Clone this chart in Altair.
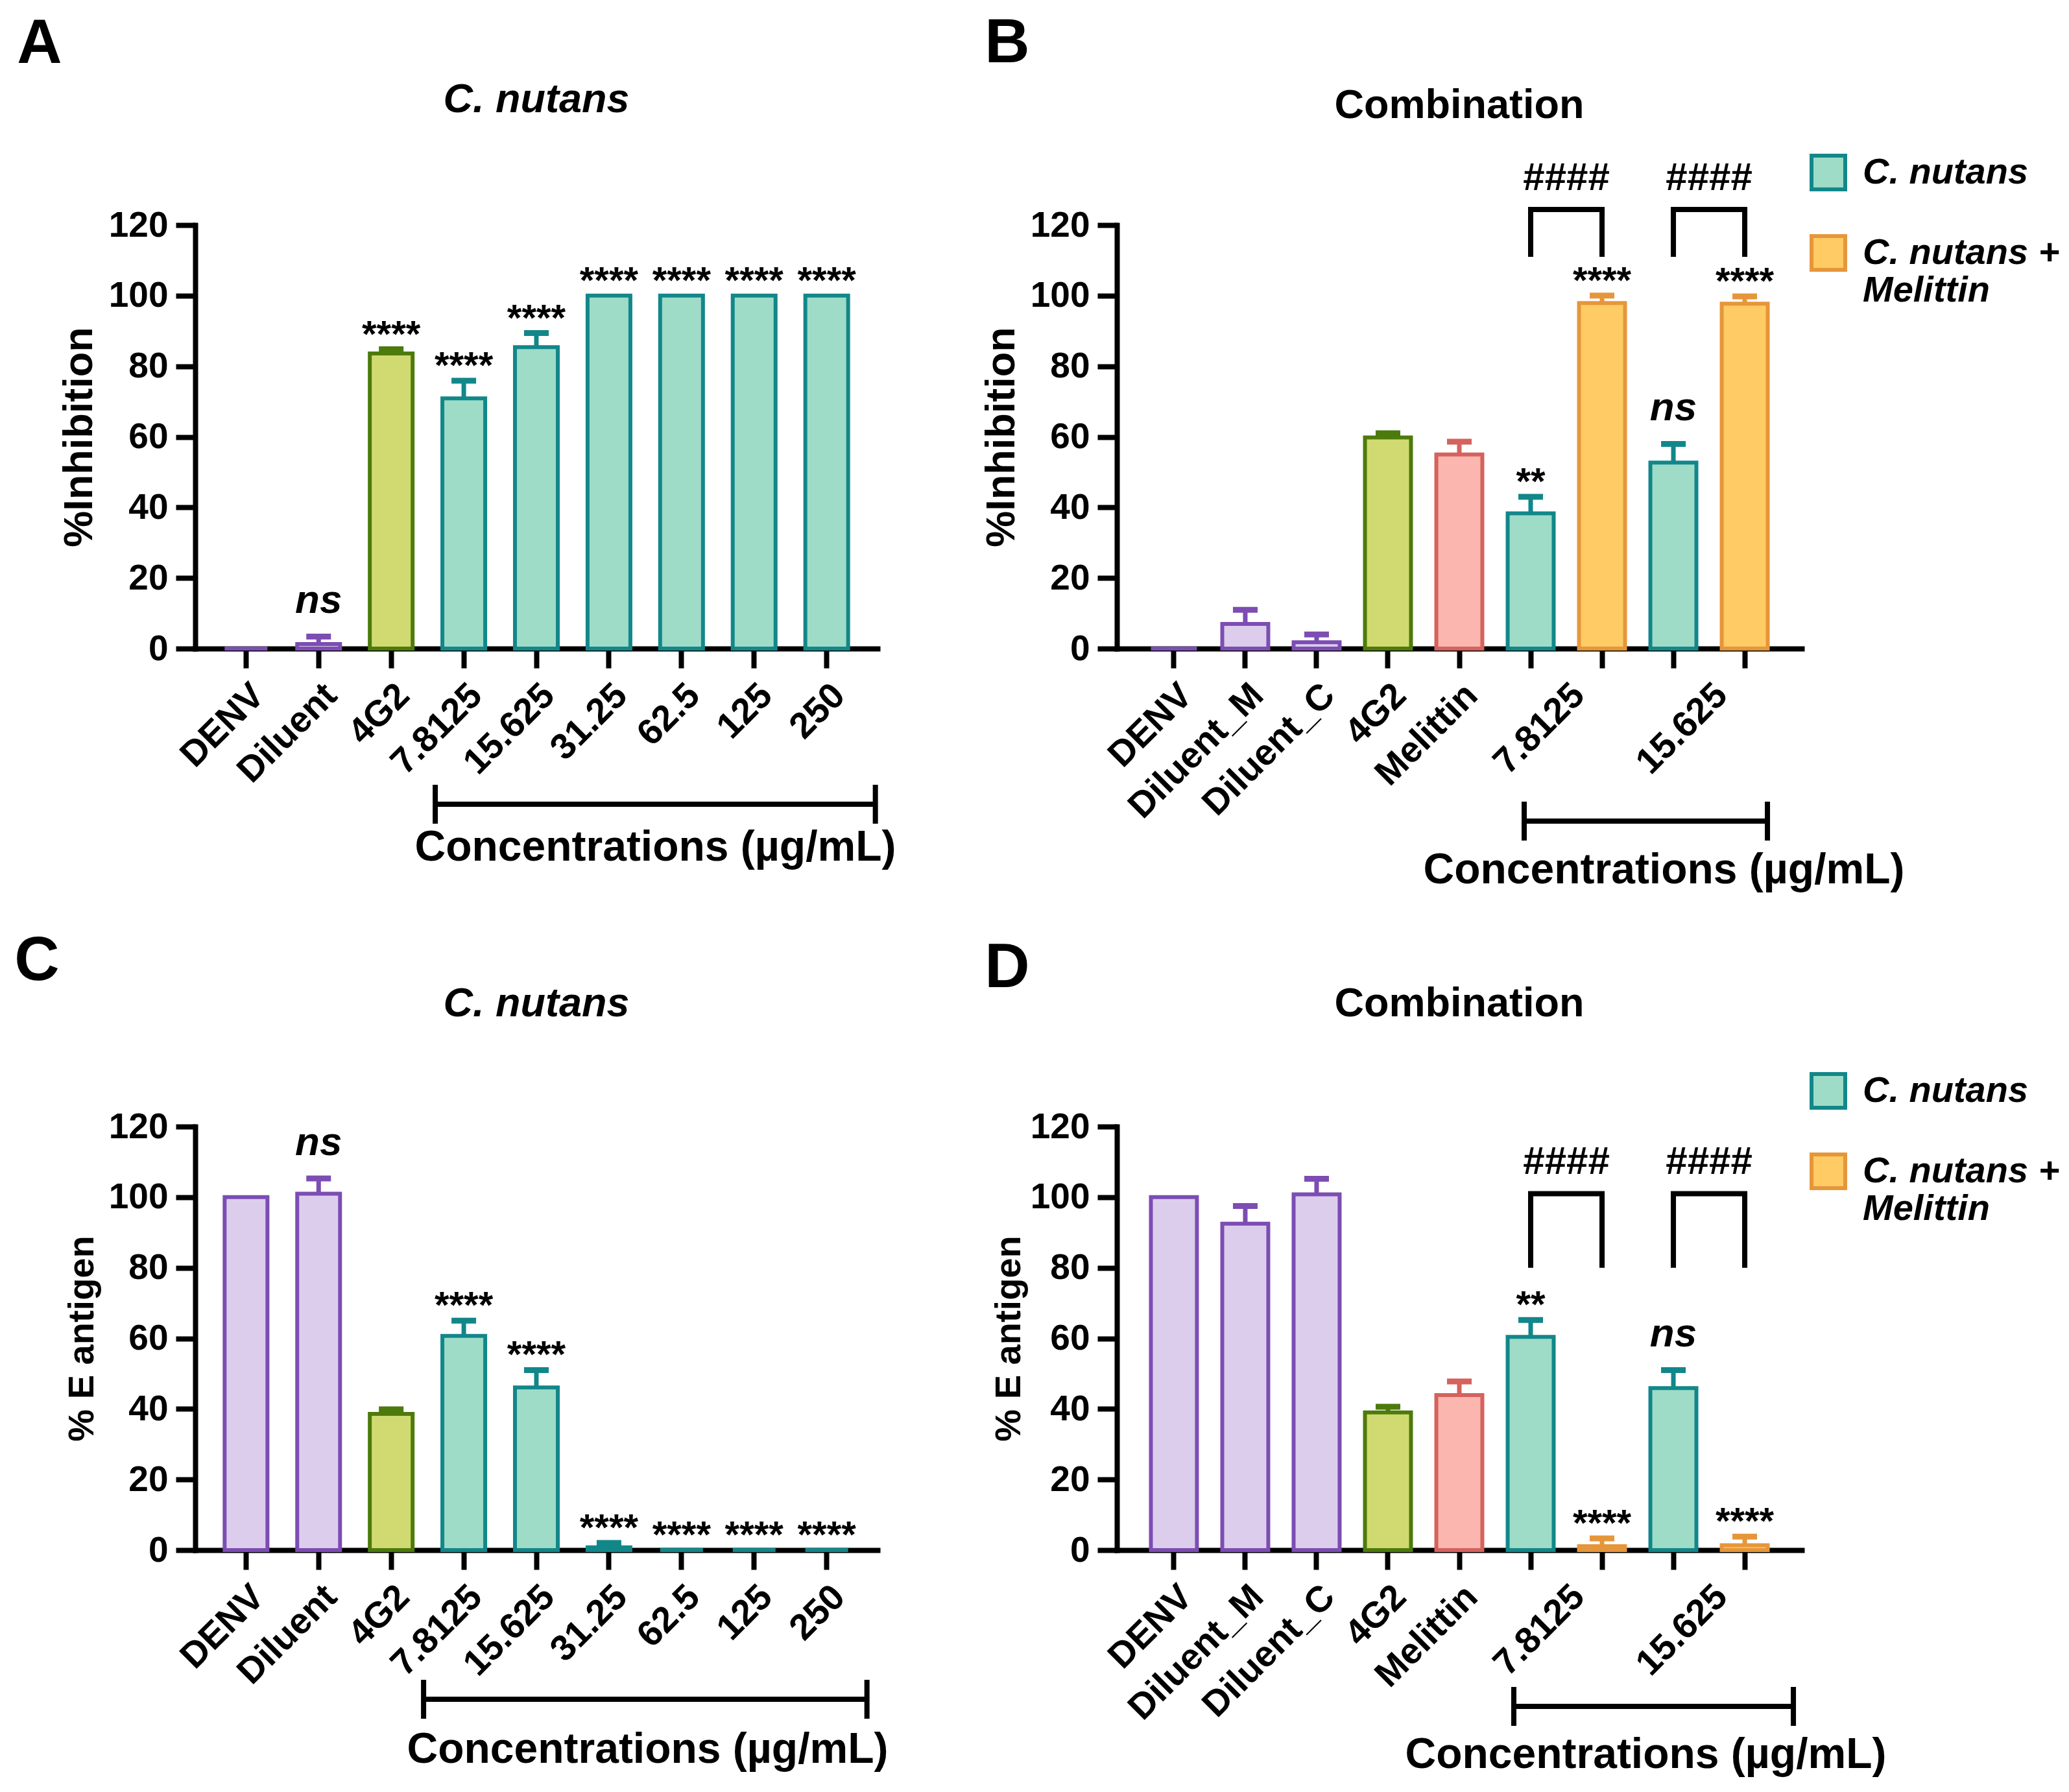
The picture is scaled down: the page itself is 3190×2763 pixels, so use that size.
import altair as alt
import pandas as pd

FONT = "Liberation Sans"

# bar groups and their colours
group_names = ["Control", "4G2", "Melittin", "C. nutans", "C. nutans + Melittin"]
fill_colors = ["#DCCDEC", "#D0DA70", "#FBB6B0", "#9EDCC8", "#FECB65"]
edge_colors = ["#7C4DB3", "#4D7A0C", "#D5625C", "#12878A", "#E6963A"]
legend_groups = ["C. nutans", "C. nutans + Melittin"]

# panels A and C: C. nutans alone
cats_single = ["DENV", "Diluent", "4G2", "7.8125", "15.625", "31.25", "62.5", "125", "250"]
groups_single = ["Control", "Control", "4G2", "C. nutans", "C. nutans", "C. nutans",
                 "C. nutans", "C. nutans", "C. nutans"]
conc_single = ["7.8125", "250"]

inhibition_single = [0, 1.3, 83.6, 70.9, 85.4, 100, 100, 100, 100]
inhibition_single_sem = [0, 2.1, 1.2, 5.0, 4.0, 0, 0, 0, 0]
inhibition_single_sig = ["", "ns", "****", "****", "****", "****", "****", "****", "****"]

eantigen_single = [100, 101.0, 38.6, 60.7, 46.1, 0.8, 0, 0, 0]
eantigen_single_sem = [0, 4.3, 1.3, 4.3, 4.9, 1.2, 0, 0, 0]
eantigen_single_sig = ["", "ns", "", "****", "****", "****", "****", "****", "****"]

# panels B and D: combination with melittin
cats_combo = ["DENV", "Diluent_M", "Diluent_C", "4G2", "Melittin",
              "7.8125", "7.8125", "15.625", "15.625"]
groups_combo = ["Control", "Control", "Control", "4G2", "Melittin",
                "C. nutans", "C. nutans + Melittin", "C. nutans", "C. nutans + Melittin"]
conc_combo = ["7.8125", "15.625"]

inhibition_combo = [0, 7.0, 1.8, 59.8, 55.0, 38.3, 97.9, 52.7, 97.7]
inhibition_combo_sem = [0, 4.0, 2.2, 1.2, 3.6, 4.7, 2.1, 5.3, 2.1]
inhibition_combo_sig = ["", "", "", "", "", "**", "****", "ns", "****"]
inhibition_bracket = [111, 124.4]

eantigen_combo = [100, 92.5, 100.8, 39.0, 43.9, 60.4, 1.1, 45.9, 1.4]
eantigen_combo_sem = [0, 5.0, 4.4, 1.6, 3.9, 4.8, 2.2, 5.1, 2.4]
eantigen_combo_sig = ["", "", "", "", "", "**", "****", "ns", "****"]
eantigen_bracket = [80, 101]

H = 653
TICK = 30
LABEL_PAD = 14
LINE = 8


def slot_keys(cats, groups):
    return [c if cats.count(c) == 1 else c + "|" + g for c, g in zip(cats, groups)]


def panel(cats, groups, values, sems, sigs, conc, letter, heading, italic, ytitle, lay,
          bracket=None):
    keys = slot_keys(cats, groups)
    df = pd.DataFrame({"slot": keys, "cat": cats, "group": groups,
                       "value": values, "sem": sems, "sig": sigs})
    df["top"] = df["value"] + df["sem"]
    w = lay["width"]
    step = w / (len(keys) - lay["pi"] + 2 * lay["po"])

    xscale = alt.Scale(domain=keys, paddingInner=lay["pi"], paddingOuter=lay["po"])
    yscale = alt.Scale(domain=[0, 120], nice=False)
    xaxis = alt.Axis(title="Concentrations (µg/mL)", titleX=lay["tx"], titleY=lay["ty"],
                     titleAlign="center", titleBaseline="middle", titleFontSize=66,
                     labelAngle=315, labelAlign="right", labelBaseline="top",
                     labelPadding=LABEL_PAD, labelFontSize=56, labelLimit=600,
                     labelOverlap=False,
                     labelExpr="indexof(datum.value, '|') >= 0 ? '' : datum.value")
    yaxis = alt.Axis(values=[0, 20, 40, 60, 80, 100, 120], title=ytitle,
                     titleX=lay["yx"], titleY=H / 2, titleAlign="center",
                     titleBaseline="middle", titleFontSize=lay["yfs"],
                     labelFontSize=55, labelPadding=12)
    if lay.get("legend_y") is not None:
        legend = alt.Legend(values=legend_groups, title=None, orient="none",
                            legendX=lay["legend_x"], legendY=lay["legend_y"],
                            symbolType="square", symbolSize=2700, symbolStrokeWidth=6,
                            labelFont=FONT, labelFontSize=56, labelFontWeight="bold",
                            labelFontStyle="italic", labelColor="black", labelLimit=800,
                            labelOffset=24, rowPadding=48, padding=0,
                            labelExpr="datum.label == 'C. nutans + Melittin' ? "
                                      "['C. nutans +', 'Melittin'] : datum.label")
    else:
        legend = None

    x = alt.X("slot:N", scale=xscale, axis=xaxis)
    fill = alt.Fill("group:N", scale=alt.Scale(domain=group_names, range=fill_colors),
                    legend=legend)
    stroke = alt.Stroke("group:N", scale=alt.Scale(domain=group_names, range=edge_colors),
                        legend=legend)

    base = alt.Chart(df)
    bars = base.mark_bar(strokeWidth=6).encode(
        x=x, y=alt.Y("value:Q", scale=yscale, axis=yaxis), fill=fill, stroke=stroke)
    err = base.transform_filter("datum.sem > 0")
    stems = err.mark_rule(strokeWidth=7).encode(
        x=x, y=alt.Y("value:Q", scale=yscale, axis=yaxis), y2="top:Q", stroke=stroke)
    caps = err.mark_rule(strokeWidth=9, xOffset=-19, x2Offset=19).encode(
        x=x, x2="slot:N", y=alt.Y("top:Q", scale=yscale, axis=yaxis), stroke=stroke)
    stars = base.transform_filter("indexof(datum.sig, '*') >= 0").mark_text(
        font=FONT, fontSize=58, fontWeight="bold", baseline="alphabetic", dy=-4,
        color="black").encode(x=x, y=alt.Y("top:Q", scale=yscale, axis=yaxis), text="sig:N")
    ns = base.transform_filter("datum.sig == 'ns'").mark_text(
        font=FONT, fontSize=62, fontWeight="bold", fontStyle="italic",
        baseline="alphabetic", dy=-36, color="black").encode(
        x=x, y=alt.Y("top:Q", scale=yscale, axis=yaxis), text="sig:N")

    # bracket spanning the concentrations, below the tick labels
    cdf = pd.DataFrame({"start": [keys[cats.index(conc[0])]],
                        "end": [keys[len(cats) - 1 - cats[::-1].index(conc[-1])]]})
    cb = alt.Chart(cdf)
    by = H + lay["by"]
    conc_line = cb.mark_rule(strokeWidth=LINE, color="black", xOffset=lay["blo"],
                             x2Offset=lay["bhi"]).encode(
        x=alt.X("start:N", scale=xscale, axis=xaxis), x2="end:N", y=alt.value(by))
    conc_left = cb.mark_rule(strokeWidth=LINE, color="black", xOffset=lay["blo"]).encode(
        x=alt.X("start:N", scale=xscale, axis=xaxis), y=alt.value(by - 30),
        y2=alt.value(by + 30))
    conc_right = cb.mark_rule(strokeWidth=LINE, color="black", xOffset=lay["bhi"]).encode(
        x=alt.X("end:N", scale=xscale, axis=xaxis), y=alt.value(by - 30),
        y2=alt.value(by + 30))

    tdf = pd.DataFrame({"letter": [letter], "heading": [heading]})
    tb = alt.Chart(tdf)
    letter_txt = tb.mark_text(font=FONT, fontSize=96, fontWeight="bold", align="center",
                              baseline="middle", color="black").encode(
        x=alt.value(lay["lx"]), y=alt.value(lay["ly"]), text="letter:N")
    head_txt = tb.mark_text(font=FONT, fontSize=63, fontWeight="bold",
                            fontStyle="italic" if italic else "normal", align="center",
                            baseline="middle", color="black").encode(
        x=alt.value(w / 2), y=alt.value(lay["hy"]), text="heading:N")

    layers = [bars, stems, caps, stars, ns, conc_line, conc_left, conc_right,
              letter_txt, head_txt]

    if bracket is not None:
        left = [k for k, g in zip(keys, groups) if g == "C. nutans"]
        right = [k for k, g in zip(keys, groups) if g == "C. nutans + Melittin"]
        bdf = pd.DataFrame({"left": left, "right": right,
                            "cat": [k.split("|")[0] for k in left],
                            "low": bracket[0], "high": bracket[1], "mark": "####"})
        bb = alt.Chart(bdf)
        bx = alt.X("left:N", scale=xscale, axis=xaxis)
        byy = alt.Y("high:Q", scale=yscale, axis=yaxis)
        top_line = bb.mark_rule(strokeWidth=LINE, color="black", strokeCap="square").encode(
            x=bx, x2="right:N", y=byy)
        leg_l = bb.mark_rule(strokeWidth=LINE, color="black").encode(
            x=bx, y=alt.Y("low:Q", scale=yscale, axis=yaxis), y2="high:Q")
        leg_r = bb.mark_rule(strokeWidth=LINE, color="black").encode(
            x=alt.X("right:N", scale=xscale, axis=xaxis),
            y=alt.Y("low:Q", scale=yscale, axis=yaxis), y2="high:Q")
        hashes = bb.mark_text(font=FONT, fontSize=60, fontWeight="bold", color="black",
                              xOffset=step / 2, baseline="alphabetic", dy=-30).encode(
            x=bx, y=byy, text="mark:N")
        group_lbl = bb.mark_text(font=FONT, fontSize=56, fontWeight="bold", color="black",
                                 angle=315, align="right", baseline="top",
                                 xOffset=step / 2).encode(
            x=bx, y=alt.value(H + TICK + LABEL_PAD), text="cat:N")
        layers += [top_line, leg_l, leg_r, hashes, group_lbl]

    return alt.layer(*layers).properties(width=w, height=H)


lay_a = dict(width=1052, pi=0.41, po=0.405, tx=709, ty=306, yx=-179, yfs=63,
             by=240, blo=-44, bhi=75, lx=-240, ly=-279, hy=-193)
lay_b = dict(width=1056, pi=0.355, po=0.477, tx=843, ty=341, yx=-178, yfs=63,
             by=266, blo=-10, bhi=35, lx=-169, ly=-280, hy=-184,
             legend_x=1068, legend_y=-110)
lay_c = dict(width=1052, pi=0.41, po=0.405, tx=697, ty=307, yx=-175, yfs=56,
             by=230, blo=-62, bhi=62, lx=-244, ly=-255, hy=-189)
lay_d = dict(width=1056, pi=0.355, po=0.477, tx=815, ty=315, yx=-167, yfs=56,
             by=241, blo=-26, bhi=75, lx=-169, ly=-244, hy=-189,
             legend_x=1068, legend_y=-84)

panel_a = panel(cats_single, groups_single, inhibition_single, inhibition_single_sem,
                inhibition_single_sig, conc_single, "A", "C. nutans", True,
                "%Inhibition", lay_a)
panel_b = panel(cats_combo, groups_combo, inhibition_combo, inhibition_combo_sem,
                inhibition_combo_sig, conc_combo, "B", "Combination", False,
                "%Inhibition", lay_b, bracket=inhibition_bracket)
panel_c = panel(cats_single, groups_single, eantigen_single, eantigen_single_sem,
                eantigen_single_sig, conc_single, "C", "C. nutans", True,
                "% E antigen", lay_c)
panel_d = panel(cats_combo, groups_combo, eantigen_combo, eantigen_combo_sem,
                eantigen_combo_sig, conc_combo, "D", "Combination", False,
                "% E antigen", lay_d, bracket=eantigen_bracket)

chart = alt.concat(panel_a, panel_b, panel_c, panel_d, columns=2,
                   spacing={"row": 737, "column": 369}, bounds="flush").resolve_scale(
    x="independent", y="independent", fill="independent", stroke="independent"
).resolve_legend(fill="independent", stroke="independent").properties(
    padding={"left": 14, "top": 11, "right": 5, "bottom": 5}
).configure_view(stroke=None).configure_axis(
    domainColor="black", domainWidth=LINE, domainCap="square", tickColor="black",
    tickWidth=LINE, tickSize=TICK, labelColor="black", labelFont=FONT,
    labelFontWeight="bold", titleFont=FONT, titleFontWeight="bold", titleColor="black",
    grid=False, zindex=1)

chart.save("out.html", embed_options={"renderer": "svg", "actions": False})
